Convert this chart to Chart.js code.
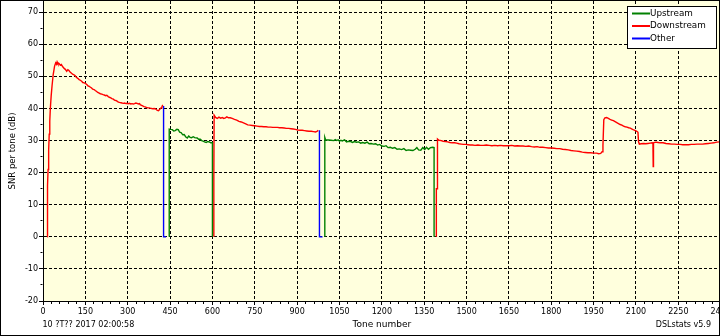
<!DOCTYPE html>
<html>
<head>
<meta charset="utf-8">
<script src="https://cdn.jsdelivr.net/npm/chart.js@4.4.1/dist/chart.umd.min.js"></script>
<style>
  html, body { margin: 0; padding: 0; background: #fff; overflow: hidden; }
  #wrap { position: relative; width: 720px; height: 336px; overflow: hidden; }
  #snr { display: block; }
  #frame { position: absolute; left: 0; top: 0; width: 718px; height: 334px; border: 1px solid #000; pointer-events: none; }
</style>
</head>
<body>
<div id="wrap">
  <canvas id="snr" width="740" height="336"></canvas>
  <div id="frame"></div>
</div>
<script>
// [tone, SNR dB]; a null SNR breaks the line between bands
const upstream = [
  [447, 0], [447, 33.6], [452, 33.5], [458, 33.4], [463, 33.0], [468, 33.1], [474, 33.5], [479, 33.4],
  [484, 32.6], [489, 32.5], [495, 31.8], [500, 31.9], [505, 31.2], [511, 30.8], [516, 31.4], [521, 31.0],
  [526, 30.9], [532, 31.2], [537, 30.9], [546, 30.8], [551, 30.4], [557, 30.4], [562, 30.0], [567, 29.8],
  [572, 29.6], [578, 29.4], [583, 29.7], [589, 29.6], [594, 29.3], [600, 29.3], [600, 0],
  [800, null],
  [998, 0], [998, 31.0], [1001, 30.2], [1010, 30.2], [1020, 30.1], [1030, 30.0], [1035, 30.3], [1040, 30.0],
  [1045, 30.2], [1050, 29.8], [1055, 30.1], [1060, 29.9], [1068, 30.2], [1075, 29.6], [1082, 29.8], [1090, 29.7],
  [1096, 29.4], [1103, 29.7], [1110, 29.5], [1118, 29.6], [1125, 29.2], [1132, 29.4], [1140, 29.2], [1148, 29.5],
  [1155, 29.0], [1162, 29.1], [1170, 28.9], [1178, 29.0], [1185, 28.6], [1192, 28.8], [1200, 28.3], [1208, 28.2],
  [1215, 28.4], [1222, 27.8], [1230, 27.9], [1238, 27.6], [1246, 27.8], [1254, 27.3], [1262, 27.4], [1270, 27.2],
  [1278, 27.5], [1286, 26.9], [1294, 27.1], [1302, 27.0], [1310, 26.9], [1318, 27.3], [1324, 27.8], [1330, 27.1],
  [1338, 27.0], [1345, 27.8], [1352, 27.2], [1358, 27.9], [1365, 27.3], [1372, 27.8], [1380, 27.9], [1385, 27.8],
  [1385, 0],
]

const downstream = [
  [15, 0], [15, 14.7], [17, 16], [18, 21], [20, 27], [22, 32], [24, 36], [26, 40], [29, 44], [32, 47],
  [36, 50.5], [41, 53.2], [45, 54.2], [48, 53.8], [50, 54.5], [53, 53.9], [57, 54.0], [61, 53.5], [65, 53.7],
  [70, 53.0], [75, 52.5], [79, 52.2], [84, 51.6], [88, 52.1], [91, 51.9], [96, 51.4], [101, 51.0], [106, 50.6],
  [110, 50.5], [114, 50.2], [118, 49.7], [123, 49.4], [128, 49.0], [132, 48.8], [137, 48.5], [141, 48.1],
  [146, 48.0], [150, 47.8], [155, 47.5], [160, 47.0], [164, 46.9], [167, 46.7], [172, 46.4], [176, 46.0],
  [181, 45.9], [185, 45.6], [190, 45.3], [194, 45.0], [199, 44.8], [203, 44.6], [208, 44.5], [213, 44.3],
  [217, 44.2], [222, 44.0], [226, 44.1], [231, 43.7], [235, 43.5], [240, 43.3], [244, 43.1], [249, 42.9],
  [253, 42.6], [258, 42.5], [262, 42.3], [267, 42.0], [271, 41.9], [276, 41.8], [280, 41.7], [285, 41.6],
  [289, 41.7], [294, 41.5], [297, 41.6], [302, 41.5], [306, 41.6], [311, 41.4], [315, 41.5], [320, 41.4],
  [324, 41.5], [329, 41.7], [333, 41.6], [338, 41.4], [342, 41.5], [344, 41.2], [349, 41.0], [353, 40.8],
  [358, 40.6], [362, 40.5], [367, 40.3], [371, 40.2], [376, 40.2], [380, 40.1], [385, 40.0], [389, 39.9],
  [394, 40.0], [398, 39.9], [402, 39.6], [405, 39.4], [409, 39.3], [412, 39.6], [415, 39.9], [418, 40.2],
  [421, 40.5], [423, 40.9], [425, 40.8],
  [500, null],
  [605, 0], [605, 19], [606, 37.9], [611, 37.2], [617, 36.9], [623, 37.3], [629, 37.0], [635, 37.2],
  [640, 36.9], [646, 37.1], [651, 37.4], [657, 37.1], [663, 37.1], [670, 36.9], [678, 36.6], [686, 36.4],
  [694, 36.0], [702, 35.8], [710, 35.5], [718, 35.2], [725, 34.9], [733, 34.8], [741, 34.7], [750, 34.6],
  [758, 34.5], [766, 34.4], [774, 34.4], [782, 34.3], [790, 34.3], [798, 34.2], [806, 34.2], [814, 34.1],
  [822, 34.1], [830, 34.1], [838, 34.0], [846, 34.0], [854, 33.9], [862, 33.8], [870, 33.8], [878, 33.7],
  [886, 33.6], [894, 33.5], [902, 33.3], [910, 33.2], [918, 33.2], [926, 33.1], [934, 33.0], [942, 32.9],
  [950, 32.9], [958, 32.8], [965, 32.7], [970, 32.9], [975, 33.2], [977, 33.2],
  [1200, null],
  [1393, 0], [1393, 15], [1397, 15], [1397, 30.5], [1402, 30.1], [1410, 30.0], [1417, 29.8], [1425, 29.7],
  [1433, 29.6], [1441, 29.4], [1449, 29.3], [1457, 29.3], [1465, 29.2], [1473, 29.0], [1481, 28.9], [1489, 28.8],
  [1497, 28.8], [1505, 28.7], [1513, 28.6], [1521, 28.6], [1530, 28.5], [1540, 28.6], [1550, 28.5], [1560, 28.5],
  [1570, 28.6], [1580, 28.5], [1590, 28.4], [1600, 28.5], [1610, 28.4], [1620, 28.5], [1630, 28.4], [1640, 28.4],
  [1650, 28.4], [1660, 28.5], [1670, 28.3], [1680, 28.4], [1690, 28.3], [1700, 28.3], [1710, 28.2], [1720, 28.3],
  [1730, 28.1], [1740, 28.0], [1750, 28.1], [1760, 27.9], [1770, 27.9], [1780, 27.8], [1790, 27.7], [1800, 27.7],
  [1810, 27.6], [1820, 27.5], [1830, 27.5], [1840, 27.3], [1850, 27.2], [1860, 27.1], [1870, 26.9], [1880, 26.8],
  [1890, 26.7], [1900, 26.6], [1910, 26.4], [1920, 26.3], [1930, 26.2], [1940, 26.2], [1950, 26.1], [1960, 26.1],
  [1968, 25.9], [1975, 26.0], [1980, 26.5], [1983, 28.5], [1986, 36.5], [1990, 37.1], [1996, 37.2], [2002, 36.9],
  [2008, 36.6], [2014, 36.4], [2020, 36.2], [2026, 35.9], [2032, 35.6], [2038, 35.3], [2044, 35.0], [2050, 34.8],
  [2056, 34.5], [2062, 34.3], [2068, 34.2], [2074, 34.0], [2080, 33.9], [2086, 33.6], [2092, 33.3], [2098, 33.1],
  [2103, 32.9], [2107, 32.6], [2109, 29.6], [2112, 28.9], [2118, 29.0], [2126, 29.1], [2134, 29.0], [2142, 29.1],
  [2150, 29.2], [2157, 29.3], [2160, 29.2], [2161, 21.9], [2162, 29.3], [2170, 29.5], [2178, 29.4], [2186, 29.3],
  [2196, 29.3], [2206, 29.1], [2216, 29.0], [2226, 28.9], [2236, 28.9], [2246, 28.8], [2256, 28.8], [2266, 28.7],
  [2276, 28.7], [2286, 28.7], [2296, 28.8], [2306, 28.8], [2316, 28.9], [2326, 28.9], [2336, 28.9], [2346, 29.0],
  [2356, 29.1], [2366, 29.2], [2376, 29.3], [2386, 29.5], [2396, 29.6],
]

const other = [
  [427, 40.8], [427, 0], [436, 0],
  [700, null],
  [979, 33.2], [979, 0], [990, 0],
]

const seriesLabels = ['Upstream', 'Downstream', 'Other']
const seriesColors = ['#008000', '#ff0000', '#0000ff']

const stamp = '10 ?T?? 2017 02:00:58'
const credit = 'DSLstats v5.9'

const FONT = 'DejaVu Sans'
const PLOT_BG = '#ffffdd'

const toPoints = (pairs) => pairs.map(([x, y]) => ({ x, y }))

const plotBackground = {
  id: 'plotBackground',
  beforeDraw(chart) {
    const { ctx, chartArea: a } = chart
    ctx.save()
    ctx.fillStyle = PLOT_BG
    ctx.fillRect(a.left, a.top, a.right - a.left, a.bottom - a.top)
    ctx.restore()
  },
}

// boxed legend in the top right corner, plus the two footer strings
const extras = {
  id: 'extras',
  afterDraw(chart) {
    const { ctx } = chart
    ctx.save()
    ctx.fillStyle = '#fff'
    ctx.strokeStyle = '#000'
    ctx.lineWidth = 1
    ctx.fillRect(627.5, 6.5, 89, 42)
    ctx.strokeRect(627.5, 6.5, 89, 42)
    ctx.font = '8.8px "' + FONT + '"'
    ctx.textBaseline = 'middle'
    chart.data.datasets.forEach((ds, i) => {
      const y = 13.5 + i * 12.5
      ctx.strokeStyle = ds.borderColor
      ctx.lineWidth = 2
      ctx.beginPath()
      ctx.moveTo(632, y)
      ctx.lineTo(650, y)
      ctx.stroke()
      ctx.fillStyle = '#000'
      ctx.fillText(ds.label, 650, y)
    })
    ctx.font = '8px "' + FONT + '"'
    ctx.fillStyle = '#000'
    ctx.textAlign = 'left'
    ctx.fillText(stamp, 42.5, 325)
    ctx.textAlign = 'right'
    ctx.fillText(credit, 711, 325)
    ctx.restore()
  },
}

const datasets = [upstream, downstream, other].map((pairs, i) => ({
  label: seriesLabels[i],
  data: toPoints(pairs),
  borderColor: seriesColors[i],
  backgroundColor: seriesColors[i],
  borderWidth: 1.4,
  pointRadius: 0,
  tension: 0,
  spanGaps: false,
}))

const tickFont = { family: FONT, size: 8 }

new Chart(document.getElementById('snr'), {
  type: 'line',
  data: { datasets },
  plugins: [plotBackground, extras],
  options: {
    responsive: false,
    animation: false,
    events: [],
    layout: { padding: { top: 1, right: 19.3, left: 0, bottom: 0 } },
    plugins: {
      legend: { display: false },
      tooltip: { enabled: false },
    },
    scales: {
      x: {
        type: 'linear',
        min: 0,
        max: 2400,
        ticks: {
          stepSize: 30,
          includeBounds: false,
          autoSkip: false,
          maxRotation: 0,
          padding: 2,
          color: '#000',
          font: tickFont,
          callback: (v) => (v % 150 === 0 ? v : ''),
        },
        grid: {
          color: (c) => (c.tick && c.tick.value % 150 === 0 ? '#000' : 'rgba(0,0,0,0)'),
          tickColor: '#000',
          tickLength: 4,
          tickBorderDash: (c) => (c.tick && c.tick.value % 150 === 0 ? [] : [2, 10]),
        },
        border: { display: true, color: '#000', width: 1, dash: [3, 2] },
        title: {
          display: true,
          text: 'Tone number',
          color: '#000',
          font: { family: FONT, size: 9 },
          padding: { top: 0, bottom: 5.6 },
        },
        afterFit(scale) {
          scale.height = 35
          scale.paddingLeft = 0
          scale.paddingRight = 0
        },
      },
      y: {
        type: 'linear',
        min: -20,
        max: 73.5,
        ticks: {
          stepSize: 5,
          includeBounds: false,
          autoSkip: false,
          padding: 1,
          color: '#000',
          font: tickFont,
          callback: (v) => (v % 10 === 0 ? v : ''),
        },
        grid: {
          color: (c) => (c.tick && c.tick.value % 10 === 0 ? '#000' : 'rgba(0,0,0,0)'),
          tickColor: '#000',
          tickLength: 4,
          tickBorderDash: (c) => (c.tick && c.tick.value % 10 === 0 ? [] : [0, 1.5, 2, 10]),
        },
        border: { display: true, color: '#000', width: 1, dash: [3, 2] },
        title: {
          display: true,
          text: 'SNR per tone (dB)',
          color: '#000',
          font: { family: FONT, size: 8.5 },
          padding: { top: 7.4, bottom: 0 },
        },
        afterFit(scale) {
          scale.width = 43
          scale.paddingTop = 0
          scale.paddingBottom = 0
        },
      },
    },
  },
})
</script>
</body>
</html>
